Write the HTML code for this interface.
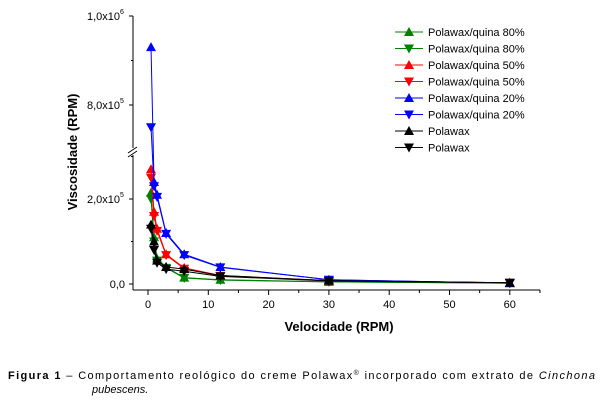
<!DOCTYPE html>
<html><head><meta charset="utf-8"><style>
body{margin:0;background:#fff;}
svg{display:block;font-family:"Liberation Sans",Arial,sans-serif;}
</style></head><body>
<svg width="604" height="400" viewBox="0 0 604 400">
<g id="axes"></g>
<g id="series"></g>
<g id="legend"></g>
<text x="339" y="331" font-size="13" font-weight="bold" text-anchor="middle">Velocidade (RPM)</text>
<text transform="translate(77,152) rotate(-90)" font-size="13" font-weight="bold" text-anchor="middle">Viscosidade (RPM)</text>
<text x="8" y="379" font-size="11" textLength="587" lengthAdjust="spacing"><tspan font-weight="bold">Figura 1</tspan> – Comportamento reológico do creme Polawax<tspan font-size="7" dy="-4">®</tspan><tspan dy="4"> incorporado com extrato de </tspan><tspan font-style="italic">Cinchona</tspan></text>
<text x="92" y="393" font-size="11" font-style="italic">pubescens.</text>
</svg>
<script>
const speeds=[0.5,1,1.5,3,6,12,30,60];
const seriesNames=["Polawax/quina 80%","Polawax/quina 80%","Polawax/quina 50%","Polawax/quina 50%","Polawax/quina 20%","Polawax/quina 20%","Polawax","Polawax"];
const seriesColors=["#008000","#008000","#ff0000","#ff0000","#0000ff","#0000ff","#000000","#000000"];
const seriesUp=[true,false,true,false,true,false,true,false];
const green80Up=[215000,110000,60000,40000,15000,10000,5000,2000];
const green80Down=[200000,100000,55000,38000,14000,9000,5000,2000];
const red50Up=[270000,170000,130000,70000,38000,20000,8000,3000];
const red50Down=[250000,160000,125000,68000,36000,19000,8000,3000];
const blue20Up=[930000,240000,210000,120000,70000,40000,10000,2000];
const blue20Down=[750000,230000,205000,118000,68000,39000,10000,2000];
const blackUp=[140000,100000,55000,40000,35000,20000,8000,3000];
const blackDown=[130000,80000,50000,35000,30000,18000,7000,3000];
const seriesValues=[green80Up,green80Down,red50Up,red50Down,blue20Up,blue20Down,blackUp,blackDown];
const xTicks=[0,10,20,30,40,50,60];
const NS="http://www.w3.org/2000/svg";
function X(v){return 148+v*6.03;}
function Y(v){ if(v<=330000) return 284-v*42.5/100000; if(v<700000) return 150; return 105-(v-800000)*44.5/100000;}
function mk(t,a,p){const e=document.createElementNS(NS,t);for(const k in a)e.setAttribute(k,a[k]);p.appendChild(e);return e;}
const ax=document.getElementById('axes');
let l=mk('line',{x1:133,y1:16,x2:133,y2:148,stroke:'#000'},ax);


l=mk('line',{x1:133,y1:155,x2:133,y2:290,stroke:'#000'},ax);


l=mk('path',{d:'M128,153 L137,147 M128,157 L137,151',stroke:'#000',fill:'none'},ax);


l=mk('line',{x1:133,y1:290,x2:540,y2:290,stroke:'#000'},ax);


const yMajor=[0,200000,800000,1000000];
const yLabels=["0,0","2,0x10","8,0x10","1,0x10"];
const yExp=["","5","5","6"];
yMajor.forEach((v,i)=>{
  mk('line',{x1:129,y1:Y(v),x2:133,y2:Y(v),stroke:'#000'},ax);
  const t=mk('text',{x:yExp[i]?120:125,y:Y(v)+4,'font-size':11,'text-anchor':'end'},ax);
  
  
  t.textContent=yLabels[i];
  if(yExp[i]){const s=mk('text',{x:120,y:Y(v)-2,'font-size':7},ax);s.textContent=yExp[i];}
});
[100000,300000,900000].forEach(v=>mk('line',{x1:131,y1:Y(v),x2:133,y2:Y(v),stroke:'#000'},ax));
xTicks.forEach(v=>{
  mk('line',{x1:X(v),y1:290,x2:X(v),y2:295,stroke:'#000'},ax);
  mk('line',{x1:X(v+5),y1:290,x2:X(v+5),y2:293,stroke:'#000'},ax);
  const t=mk('text',{x:X(v),y:308,'font-size':11,'text-anchor':'middle'},ax);
  
  
  t.textContent=v;
});
function tri(x,y,up,c,p){const d=up?`M${x},${y-5} L${x+5},${y+4} L${x-5},${y+4}Z`:`M${x},${y+5} L${x+5},${y-4} L${x-5},${y-4}Z`;return mk('path',{d:d,fill:c},p);}
const sg=document.getElementById('series');
seriesValues.forEach((vals,i)=>{
  const g=mk('g',{},sg);
  
  
  const pts=vals.map((v,j)=>X(speeds[j])+','+Y(v)).join(' ');
  mk('polyline',{points:pts,fill:'none',stroke:seriesColors[i],'stroke-width':1},g);
  vals.forEach((v,j)=>{const m=tri(X(speeds[j]),Y(v),seriesUp[i],seriesColors[i],g);
    
    });
});
const lg=document.getElementById('legend');
seriesNames.forEach((n,i)=>{
  const y=32+i*16.5;
  const g=mk('g',{},lg);
  
  
  mk('line',{x1:395,y1:y,x2:423,y2:y,stroke:seriesColors[i]},g);
  tri(409,y,seriesUp[i],seriesColors[i],g);
  const t=mk('text',{x:428,y:y+4,'font-size':11},g);
  t.textContent=n;
});
</script>
</body></html>
